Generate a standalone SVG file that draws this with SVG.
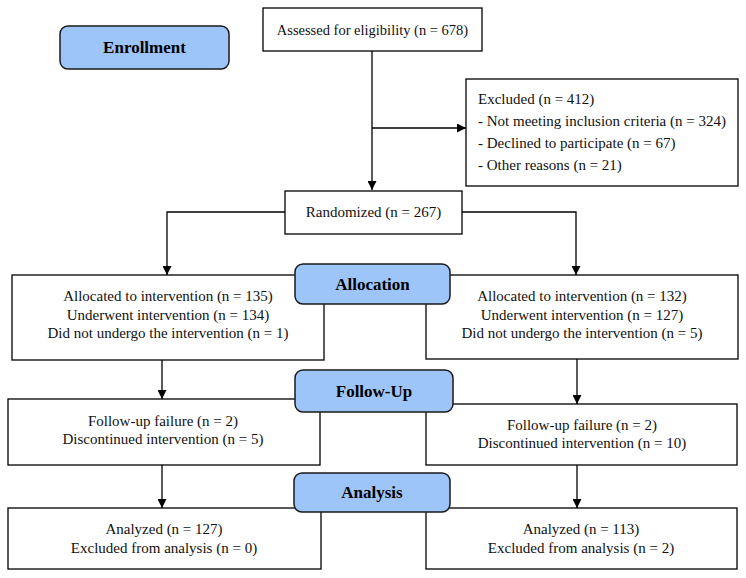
<svg xmlns="http://www.w3.org/2000/svg" width="746" height="578" viewBox="0 0 746 578">
<defs>
<marker id="ah" viewBox="0 0 10 10" refX="10" refY="5" markerWidth="9" markerHeight="9" markerUnits="userSpaceOnUse" orient="auto">
<path d="M0,0 L10,5 L0,10 z" fill="#000"/>
</marker>
<style>
.box{fill:#fff;stroke:#000;stroke-width:1.3}
.lab{fill:#9ec5fa;stroke:#1a1a1a;stroke-width:1.5}
.t{font-family:"Liberation Serif","Times New Roman",serif;font-size:15px;fill:#111}
.c{text-anchor:middle}
.b{font-family:"Liberation Serif","Times New Roman",serif;font-size:17px;font-weight:bold;fill:#000;text-anchor:middle}
.ln{fill:none;stroke:#000;stroke-width:1.3}
</style>
</defs>
<rect width="746" height="578" fill="#fff"/>
<g id="connectors">
<path class="ln" d="M372,51 V190" marker-end="url(#ah)"/>
<path class="ln" d="M372,128 H466" marker-end="url(#ah)"/>
<path class="ln" d="M285,212 H167 V275" marker-end="url(#ah)"/>
<path class="ln" d="M462,212 H576 V275" marker-end="url(#ah)"/>
<path class="ln" d="M162,360 V399" marker-end="url(#ah)"/>
<path class="ln" d="M577,359 V404" marker-end="url(#ah)"/>
<path class="ln" d="M162,465 V508" marker-end="url(#ah)"/>
<path class="ln" d="M577,465 V508" marker-end="url(#ah)"/>
</g>
<g id="assessed">
<rect class="box" x="263" y="8" width="219" height="43"/>
<text class="t c" x="372.5" y="35" style="font-size:14.5px">Assessed for eligibility (n = 678)</text>
</g>
<g id="excluded">
<rect class="box" x="466" y="79" width="272" height="107"/>
<text class="t" x="478" y="104">Excluded (n = 412)</text>
<text class="t" x="478" y="126">- Not meeting inclusion criteria (n = 324)</text>
<text class="t" x="478" y="148">- Declined to participate (n = 67)</text>
<text class="t" x="478" y="170">- Other reasons (n = 21)</text>
</g>
<g id="randomized">
<rect class="box" x="285" y="191" width="177" height="43"/>
<text class="t c" x="373.5" y="217">Randomized (n = 267)</text>
</g>
<g id="alloc-left">
<rect class="box" x="12" y="275" width="312" height="85"/>
<text class="t c" x="168" y="301">Allocated to intervention (n = 135)</text>
<text class="t c" x="168" y="319.5">Underwent intervention (n = 134)</text>
<text class="t c" x="168" y="338">Did not undergo the intervention (n = 1)</text>
</g>
<g id="alloc-right">
<rect class="box" x="426" y="275" width="312" height="84"/>
<text class="t c" x="582" y="301">Allocated to intervention (n = 132)</text>
<text class="t c" x="582" y="319.5">Underwent intervention (n = 127)</text>
<text class="t c" x="582" y="338">Did not undergo the intervention (n = 5)</text>
</g>
<g id="fu-left">
<rect class="box" x="8" y="399" width="312" height="66"/>
<text class="t c" x="163" y="425.5">Follow-up failure (n = 2)</text>
<text class="t c" x="163" y="444">Discontinued intervention (n = 5)</text>
</g>
<g id="fu-right">
<rect class="box" x="426" y="404" width="311" height="61"/>
<text class="t c" x="582" y="429.5">Follow-up failure (n = 2)</text>
<text class="t c" x="582" y="448">Discontinued intervention (n = 10)</text>
</g>
<g id="an-left">
<rect class="box" x="8" y="508" width="313" height="61"/>
<text class="t c" x="164" y="533.5">Analyzed (n = 127)</text>
<text class="t c" x="164" y="552.5">Excluded from analysis (n = 0)</text>
</g>
<g id="an-right">
<rect class="box" x="426" y="508" width="311" height="61"/>
<text class="t c" x="581" y="533.5">Analyzed (n = 113)</text>
<text class="t c" x="581" y="552.5">Excluded from analysis (n = 2)</text>
</g>
<g id="enrollment">
<rect class="lab" x="60" y="26" width="169" height="43" rx="8"/>
<text class="b" x="144.5" y="53">Enrollment</text>
</g>
<g id="allocation">
<rect class="lab" x="295" y="264" width="155" height="40" rx="8"/>
<text class="b" x="372.5" y="290">Allocation</text>
</g>
<g id="followup">
<rect class="lab" x="295" y="370" width="158" height="42" rx="8"/>
<text class="b" x="374" y="397">Follow-Up</text>
</g>
<g id="analysis">
<rect class="lab" x="294" y="473" width="156" height="39" rx="8"/>
<text class="b" x="372" y="498">Analysis</text>
</g>
</svg>
